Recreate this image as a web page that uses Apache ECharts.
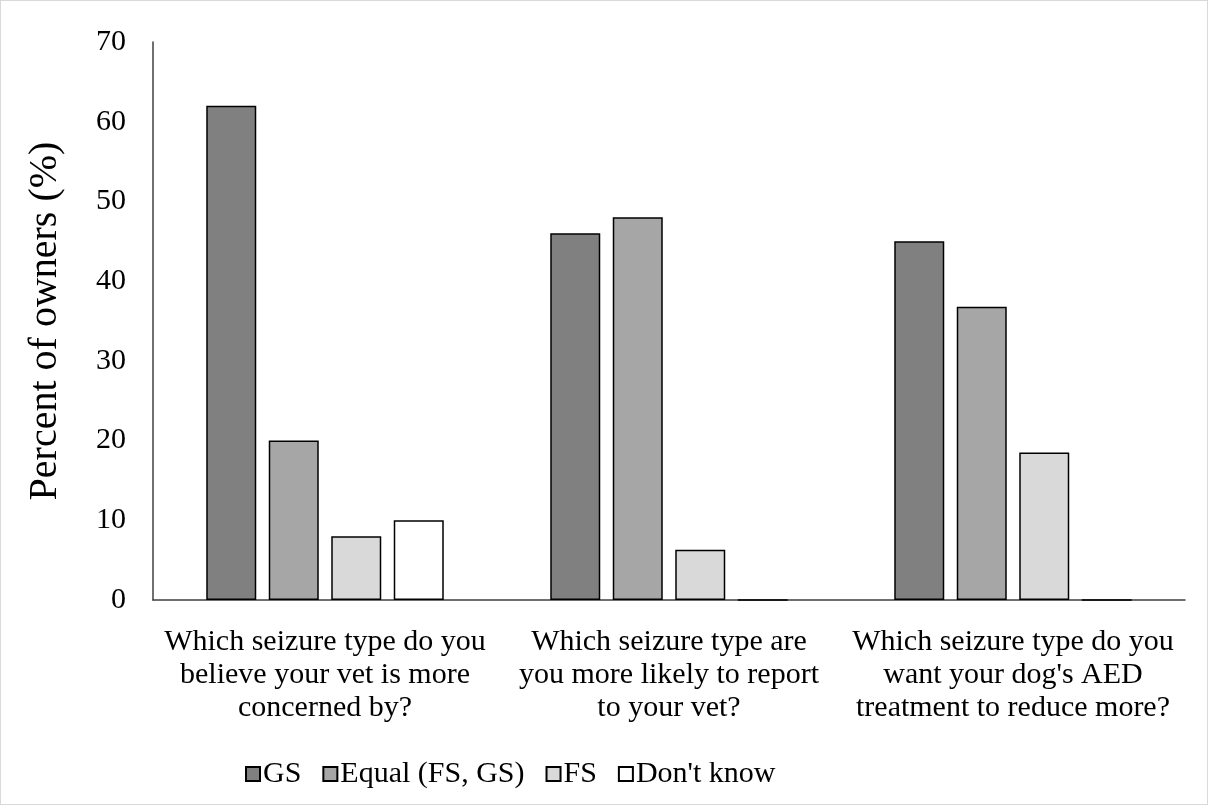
<!DOCTYPE html>
<html>
<head>
<meta charset="utf-8">
<script src="https://cdn.jsdelivr.net/npm/echarts@6/dist/echarts.min.js"></script>
<style>
html,body{margin:0;padding:0;background:#fff;}
#chart{width:1206px;height:803px;border:1px solid #d9d9d9;}
</style>
</head>
<body>
<div id="chart"></div>
<script>
const categories = [
  "Which seizure type do you\nbelieve your vet is more\nconcerned by?",
  "Which seizure type are\nyou more likely to report\nto your vet?",
  "Which seizure type do you\nwant your dog's AED\ntreatment to reduce more?"
];
const seriesNames = ["GS", "Equal (FS, GS)", "FS", "Don't know"];
const gsValues = [62, 46, 45];
const equalValues = [20, 48, 36.8];
const fsValues = [8, 6.3, 18.5];
const dontKnowValues = [10, 0, 0];
const yTicks = {min: 0, max: 70, interval: 10};

const colors = ["#808080", "#a6a6a6", "#d9d9d9", "#ffffff"];
const allValues = [gsValues, equalValues, fsValues, dontKnowValues];
const font = "'Liberation Serif', 'Times New Roman', serif";

const chart = echarts.init(document.getElementById('chart'));
chart.setOption({
  animation: false,
  backgroundColor: '#fff',
  textStyle: {fontFamily: font, color: '#000'},
  grid: {left: 152, right: 22, top: 41, bottom: 204, containLabel: false},
  legend: {
    left: 239, top: 753,
    itemWidth: 14, itemHeight: 14, itemGap: 21,
    icon: 'rect',
    textStyle: {fontFamily: font, fontSize: 30, color: '#000', padding: [0, 0, 0, -2]},
    data: seriesNames
  },
  xAxis: {
    type: 'category',
    data: categories,
    axisLine: {lineStyle: {color: '#404040', width: 1.5}},
    axisTick: {show: false},
    axisLabel: {fontFamily: font, fontSize: 30, color: '#000', lineHeight: 33, margin: 26, interval: 0}
  },
  yAxis: {
    type: 'value',
    min: yTicks.min, max: yTicks.max, interval: yTicks.interval,
    name: 'Percent of owners (%)',
    nameLocation: 'middle',
    nameGap: 88,
    nameTextStyle: {fontFamily: font, fontSize: 40, color: '#000'},
    axisLine: {show: true, lineStyle: {color: '#404040', width: 1.5}},
    axisTick: {show: false},
    splitLine: {show: false},
    axisLabel: {fontFamily: font, fontSize: 30, color: '#000', margin: 27}
  },
  series: seriesNames.map((n, i) => ({
    name: n,
    type: 'bar',
    data: allValues[i],
    barWidth: 50,
    barGap: '25%',
    itemStyle: {color: colors[i], borderColor: '#000', borderWidth: 1.5}
  }))
});
</script>
</body>
</html>
